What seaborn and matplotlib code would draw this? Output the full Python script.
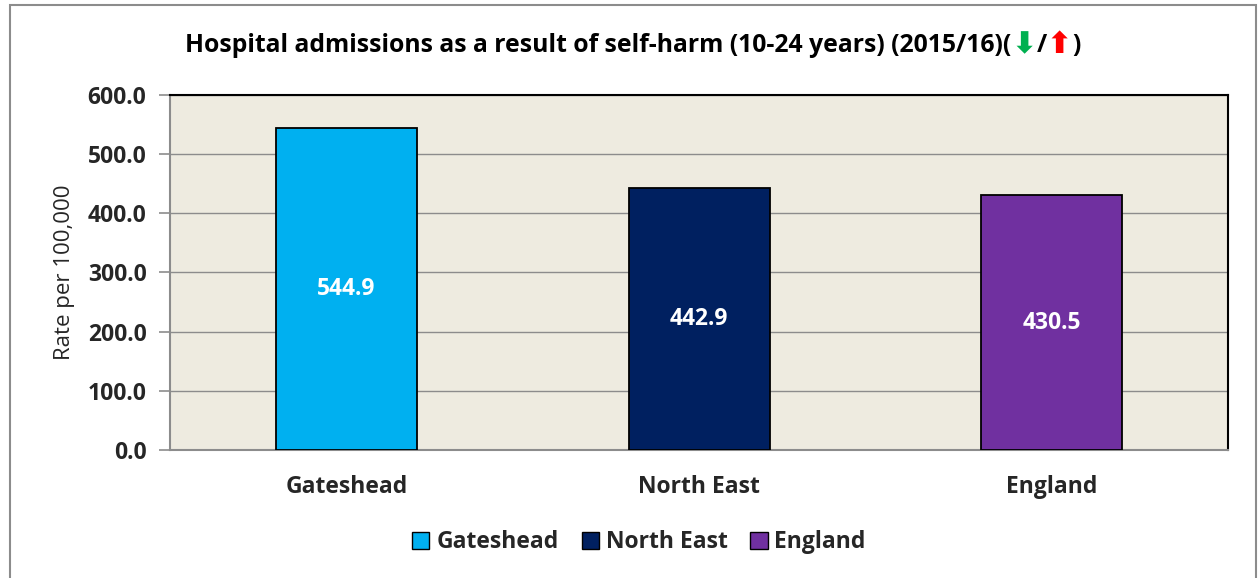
import matplotlib
matplotlib.use("Agg")
import matplotlib.pyplot as plt
import matplotlib.patches as mpatches
import seaborn as sns
import pandas as pd

areas = ["Gateshead", "North East", "England"]
rates = [544.9, 442.9, 430.5]
colours = ["#00B0F0", "#002060", "#7030A0"]
y_ticks = [0, 100, 200, 300, 400, 500, 600]

sns.set_theme(style="white")
FONT = ["Open Sans", "DejaVu Sans"]
plt.rcParams["font.family"] = FONT
FS = 16.5
TITLE_FS = 17.8

df = pd.DataFrame({"area": areas, "rate": rates})

fig = plt.figure(figsize=(12.58, 5.78), dpi=100)
ax = fig.add_axes([0.1352, 0.2215, 0.8410, 0.6141])

sns.barplot(data=df, x="area", y="rate", hue="area", palette=colours,
            order=areas, hue_order=areas, width=0.40, dodge=False, saturation=1,
            edgecolor="black", linewidth=1.3, legend=False, ax=ax, zorder=3)

ax.set_facecolor("#EEEBE0")
ax.set_ylim(0, 600)
ax.set_xlim(-0.5, 2.5)
ax.set_yticks(y_ticks)
ax.set_yticklabels([f"{v:.1f}" for v in y_ticks], fontsize=FS, fontweight="bold")
ax.yaxis.grid(True, color="#8C8C8C", linewidth=1.0, zorder=0)
ax.set_axisbelow(True)

# category labels sit between boundary ticks
ax.set_xticks([0, 1, 2])
ax.set_xticklabels(areas, fontsize=FS, fontweight="bold")
ax.tick_params(axis="x", length=0, pad=18)
ax.set_xticks([-0.5, 0.5, 1.5, 2.5], minor=True)
ax.tick_params(axis="x", which="minor", length=8, color="#8C8C8C", width=1.2, direction="out")
ax.tick_params(axis="y", length=8, color="#8C8C8C", width=1.2, direction="out", pad=9, left=True)

ax.set_xlabel("")
ax.set_ylabel("Rate per 100,000", fontsize=16, labelpad=9)

for side in ["top", "right"]:
    ax.spines[side].set_color("black")
    ax.spines[side].set_linewidth(1.5)
for side in ["left", "bottom"]:
    ax.spines[side].set_color("#8C8C8C")
    ax.spines[side].set_linewidth(1.5)

for i, v in enumerate(rates):
    ax.text(i, v / 2, f"{v:.1f}", ha="center", va="center", color="white",
            fontsize=FS, fontweight="bold", zorder=5)

# title assembled from pieces so the arrows can be coloured
title_parts = [
    ("Hospital admissions as a result of self-harm (10-24 years) (2015/16)(", "black", TITLE_FS),
    ("\u2B07", "#00B050", TITLE_FS + 4),
    ("/", "black", TITLE_FS),
    ("\u2B06", "#FF0000", TITLE_FS + 4),
    (")", "black", TITLE_FS),
]
fig.canvas.draw()
renderer = fig.canvas.get_renderer()
texts = []
for s, c, size in title_parts:
    t = fig.text(0, 0.922, s, color=c, fontsize=size, fontweight="bold",
                 va="center", ha="left", family=FONT)
    texts.append(t)
widths = [t.get_window_extent(renderer).width for t in texts]
total = sum(widths)
x0 = 0.503 * fig.bbox.width - total / 2
for t, w in zip(texts, widths):
    t.set_x(x0 / fig.bbox.width)
    x0 += w

handles = [mpatches.Patch(facecolor=c, edgecolor="black", linewidth=1.0, label=a)
           for a, c in zip(areas, colours)]
fig.legend(handles=handles, loc="center", bbox_to_anchor=(0.508, 0.062), ncol=3,
           frameon=False, prop={"size": FS, "weight": "bold", "family": FONT},
           handlelength=0.75, handleheight=0.75, handletextpad=0.3, columnspacing=1.0)

# chart border
border = mpatches.Rectangle((10 / 1258, -0.01), 1246 / 1258, 1.0 - 5 / 578 + 0.01,
                            transform=fig.transFigure, fill=False,
                            edgecolor="#8C8C8C", linewidth=1.5)
fig.patches.append(border)

fig.savefig("out.png", dpi=100)
